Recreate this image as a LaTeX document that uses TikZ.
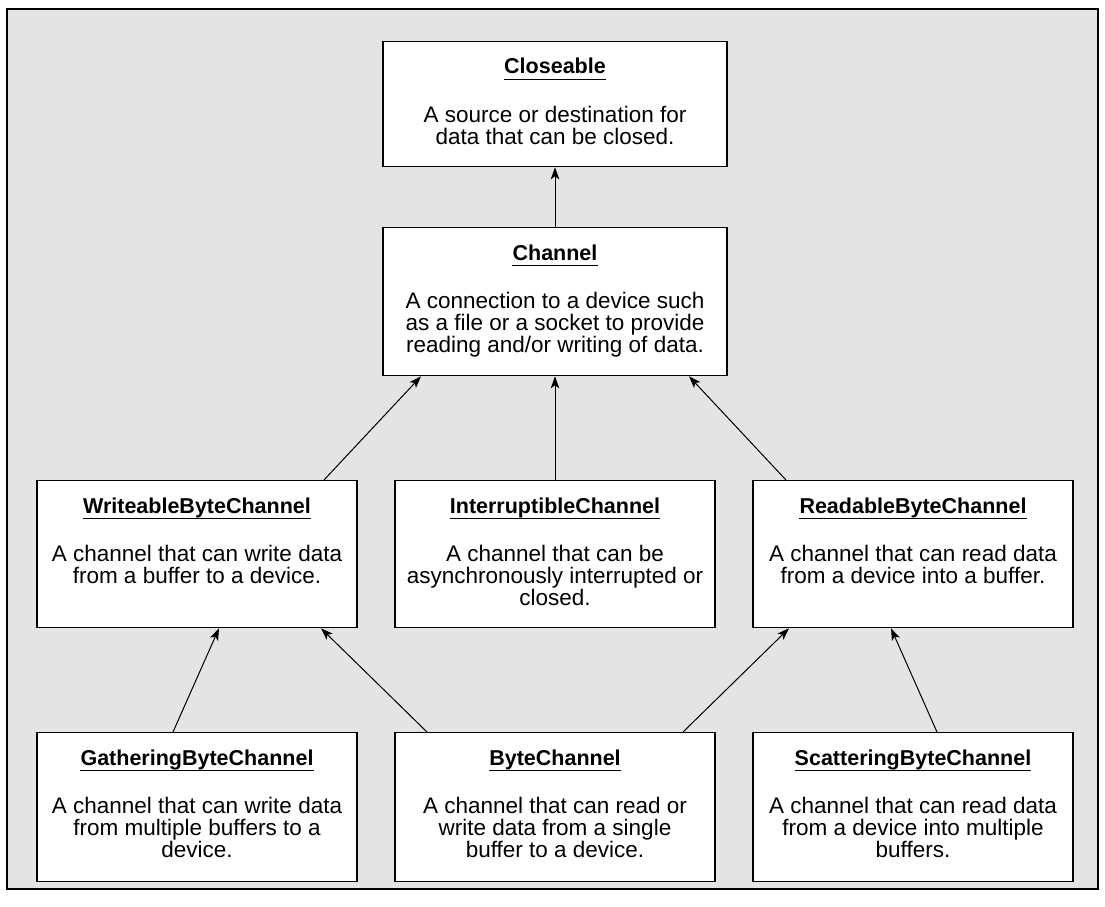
\documentclass[tikz,border=0pt]{standalone}
\usepackage{fontspec}
\setmainfont{Liberation Sans}
\usetikzlibrary{arrows.meta,calc}
\definecolor{bg}{HTML}{E4E4E4}
\newcommand{\mkbox}[7]{%
  \node[box, minimum width=#4, minimum height=#5] (#1) at (#2,#3) {};
  \node[ttl] (#1t) at ($(#1.north)+(0,33)$) {#6};
  \draw[uline] ([yshift=-5.5pt]#1t.base west) -- ([yshift=-5.5pt]#1t.base east);
  \node[body] (#1b) at ($(#1.north)+(0,81)$) {\parbox[t]{#4}{\centering #7}};
}
\begin{document}
\begin{tikzpicture}[x=1pt,y=-1pt,
  box/.style={draw=black, line width=1.3pt, fill=white, inner sep=0pt, anchor=north},
  ttl/.style={anchor=base, inner sep=0pt, font=\fontsize{21.5}{22}\selectfont\bfseries},
  body/.style={anchor=base, inner sep=0pt, font=\fontsize{22.5}{22}\selectfont},
  uline/.style={line width=1.5pt},
  arr/.style={-{Stealth[length=12pt,width=8.5pt,inset=3pt]}, line width=1pt}]
\useasboundingbox (0,0) rectangle (1105,907);
\fill[white] (0,0) rectangle (1105,907);
\draw[fill=bg, line width=1.3pt] (7,9) rectangle (1098,889);
\mkbox{cl}{555}{41}{344pt}{125pt}{Closeable}{A source or destination for\\data that can be closed.}
\mkbox{ch}{555}{227}{344pt}{148pt}{Channel}{A connection to a device such\\as a file or a socket to provide\\reading and/or writing of data.}
\mkbox{wr}{197}{480}{320pt}{147pt}{WriteableByteChannel}{A channel that can write data\\from a buffer to a device.}
\mkbox{intr}{555}{480}{320pt}{147pt}{InterruptibleChannel}{A channel that can be\\asynchronously interrupted or\\closed.}
\mkbox{rd}{913}{480}{320pt}{147pt}{ReadableByteChannel}{A channel that can read data\\from a device into a buffer.}
\mkbox{ga}{197}{732}{320pt}{149pt}{GatheringByteChannel}{A channel that can write data\\from multiple buffers to a\\device.}
\mkbox{by}{555}{732}{320pt}{149pt}{ByteChannel}{A channel that can read or\\write data from a single\\buffer to a device.}
\mkbox{sc}{913}{732}{320pt}{149pt}{ScatteringByteChannel}{A channel that can read data\\from a device into multiple\\buffers.}
\draw[arr] (ch.north) -- (cl.south);
\draw[arr] ([xshift=127pt]wr.north) -- ([xshift=-134pt]ch.south);
\draw[arr] (intr.north) -- (ch.south);
\draw[arr] ([xshift=-127pt]rd.north) -- ([xshift=134pt]ch.south);
\draw[arr] ([xshift=-24pt]ga.north) -- ([xshift=22pt]wr.south);
\draw[arr] ([xshift=-128pt]by.north) -- ([xshift=124pt]wr.south);
\draw[arr] ([xshift=128pt]by.north) -- ([xshift=-124pt]rd.south);
\draw[arr] ([xshift=24pt]sc.north) -- ([xshift=-22pt]rd.south);
\end{tikzpicture}
\end{document}
